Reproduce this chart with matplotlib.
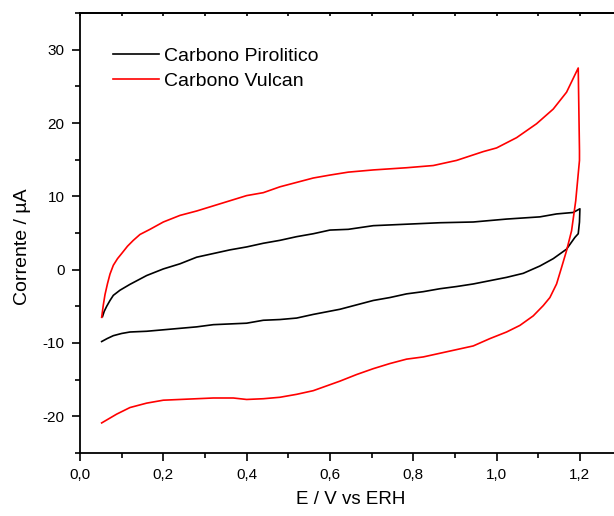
import matplotlib.pyplot as plt
from matplotlib.ticker import MultipleLocator

plt.rcParams['font.family'] = ['Liberation Sans', 'DejaVu Sans']
plt.rcParams['axes.unicode_minus'] = False

# Carbono Pirolitico: anodic sweep then cathodic return
pir_E = [0.054, 0.058, 0.064, 0.072, 0.080, 0.096, 0.12, 0.14, 0.16, 0.20, 0.24, 0.28,
         0.32, 0.36, 0.40, 0.44, 0.48, 0.52, 0.56, 0.60, 0.644, 0.704, 0.784, 0.864,
         0.944, 1.024, 1.104, 1.144, 1.184, 1.200, 1.199, 1.196, 1.188, 1.168, 1.136,
         1.104, 1.064, 1.024, 0.984, 0.944, 0.904, 0.864, 0.824, 0.784, 0.744, 0.704,
         0.664, 0.624, 0.56, 0.52, 0.48, 0.44, 0.40, 0.36, 0.32, 0.28,
         0.24, 0.20, 0.16, 0.12, 0.10, 0.08, 0.065, 0.052]
pir_I = [-6.4, -5.7, -5.0, -4.2, -3.5, -2.8, -2.0, -1.4, -0.8, 0.1, 0.8, 1.7,
         2.2, 2.7, 3.1, 3.6, 4.0, 4.5, 4.9, 5.4, 5.5, 6.0, 6.2, 6.4,
         6.5, 6.9, 7.2, 7.6, 7.8, 8.3, 6.5, 4.9, 4.4, 2.8, 1.5,
         0.5, -0.5, -1.05, -1.5, -1.95, -2.3, -2.6, -3.0, -3.3, -3.8, -4.2,
         -4.8, -5.4, -6.1, -6.6, -6.8, -6.9, -7.3, -7.4, -7.5, -7.8,
         -8.0, -8.2, -8.4, -8.5, -8.7, -9.0, -9.4, -9.8]

# Carbono Vulcan
vul_E = [0.052, 0.056, 0.060, 0.066, 0.072, 0.080, 0.090, 0.100, 0.114, 0.128, 0.144,
         0.168, 0.20, 0.24, 0.28, 0.32, 0.36, 0.40, 0.44, 0.48, 0.52, 0.56, 0.60,
         0.644, 0.704, 0.784, 0.848, 0.904, 0.968, 1.0, 1.048, 1.096, 1.136, 1.168,
         1.196, 1.199, 1.199, 1.190, 1.18, 1.168, 1.156, 1.144, 1.128, 1.112, 1.088,
         1.056, 1.024, 0.984, 0.944, 0.904, 0.864, 0.824, 0.784, 0.744, 0.704, 0.664,
         0.624, 0.56, 0.52, 0.48, 0.44, 0.40, 0.368, 0.32, 0.28, 0.24, 0.20,
         0.16, 0.12, 0.088, 0.07, 0.052]
vul_I = [-6.5, -4.8, -3.4, -1.9, -0.6, 0.6, 1.5, 2.2, 3.2, 4.0, 4.8,
         5.5, 6.5, 7.4, 8.0, 8.7, 9.4, 10.1, 10.5, 11.3, 11.9, 12.5, 12.9,
         13.3, 13.6, 13.9, 14.2, 14.9, 16.1, 16.6, 18.0, 19.9, 21.9, 24.2,
         27.5, 16.2, 14.9, 9.4, 5.3, 2.6, 0.3, -1.95, -3.8, -4.9, -6.3,
         -7.6, -8.5, -9.4, -10.4, -10.9, -11.4, -11.9, -12.2, -12.8, -13.5, -14.3,
         -15.2, -16.5, -17.0, -17.4, -17.6, -17.7, -17.5, -17.5, -17.6, -17.7, -17.8,
         -18.2, -18.8, -19.7, -20.3, -20.9]

xticks = [0.0, 0.2, 0.4, 0.6, 0.8, 1.0, 1.2]
xtick_labels = ['0,0', '0,2', '0,4', '0,6', '0,8', '1,0', '1,2']
yticks = [-20, -10, 0, 10, 20, 30]

fig = plt.figure(figsize=(6.14, 5.16), dpi=100)
ax = fig.add_axes([0.1303, 0.1221, 0.882, 0.8527])

ax.plot(pir_E, pir_I, color='black', lw=1.2, label='Carbono Pirolitico')
ax.plot(vul_E, vul_I, color='red', lw=1.2, label='Carbono Vulcan')

ax.set_xlim(0, 1.3)
ax.set_ylim(-25, 35)
ax.set_xticks(xticks)
ax.set_xticklabels(xtick_labels)
ax.set_yticks(yticks)
ax.xaxis.set_minor_locator(MultipleLocator(0.1))
ax.yaxis.set_minor_locator(MultipleLocator(5))
ax.tick_params(which='both', direction='out', labelsize=11, width=1.2, pad=5)
ax.tick_params(which='major', length=6)
ax.tick_params(which='minor', length=3.5)
for sp in ax.spines.values():
    sp.set_linewidth(1.3)

# small inward ticks along the top edge
top = ax.secondary_xaxis('top')
top.set_xticks(xticks)
top.xaxis.set_minor_locator(MultipleLocator(0.1))
top.tick_params(which='both', direction='in', length=2.5, width=1.2, labeltop=False)
top.spines['top'].set_linewidth(1.3)

ax.set_xlabel('E / V vs ERH', fontsize=13.5, labelpad=6)
ax.set_ylabel('Corrente / µA', fontsize=14)
ax.yaxis.set_label_coords(-0.09, 0.468)

leg = ax.legend(loc='upper left', bbox_to_anchor=(0.028, 0.961), frameon=False,
                fontsize=14, handlelength=2.4, handletextpad=0.26, labelspacing=0.35)

fig.savefig('out.png', dpi=100)
